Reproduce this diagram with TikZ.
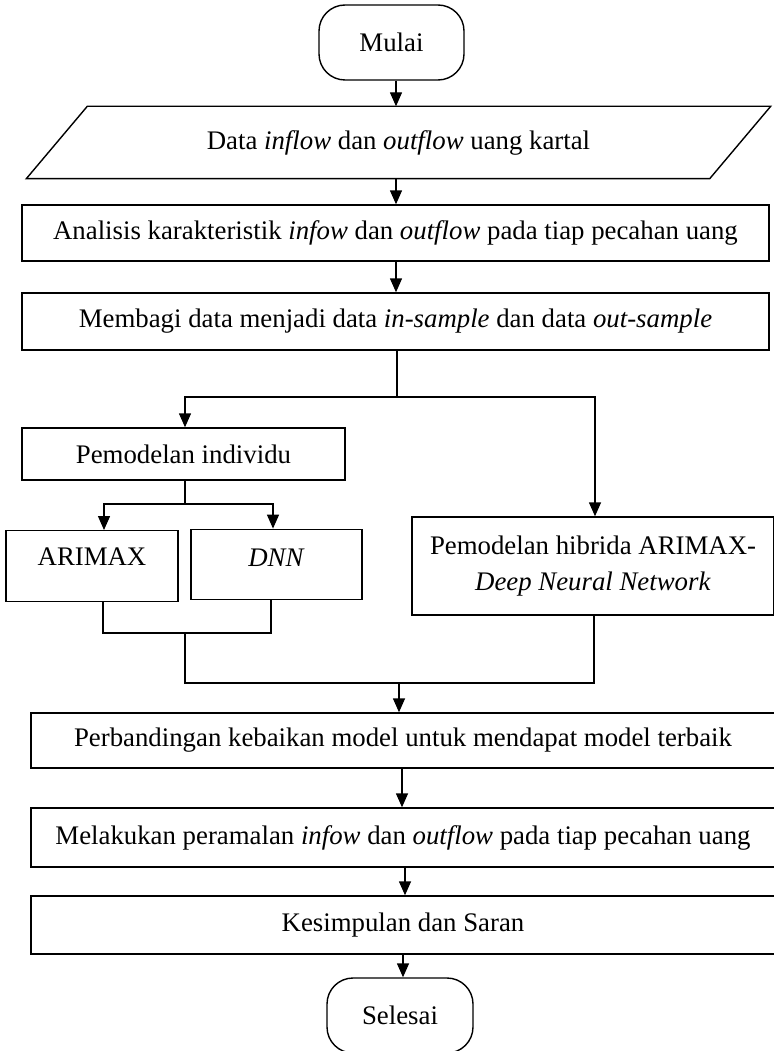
\documentclass[tikz,border=0pt]{standalone}
\usepackage{fontspec}
\setmainfont{Liberation Serif}
\usetikzlibrary{arrows.meta}
\begin{document}
\begin{tikzpicture}[x=1pt,y=-1pt,line width=1.4pt,
  every node/.style={font=\fontsize{26.8}{36}\selectfont, inner sep=0pt},
  box/.style={draw},
  term/.style={draw, rounded corners=26pt},
  arr/.style={-{Triangle[length=14pt,width=12pt]}}]
\fill[white] (0,0) rectangle (773,1051);
\useasboundingbox (0,0) rectangle (773,1051);

\node[term, minimum width=145, minimum height=75] (start) at (391.5,42.5) {Mulai};
\node[minimum width=682, minimum height=71] (data) at (398.5,142.5) {Data \textit{inflow} dan \textit{outflow} uang kartal};
\draw ([xshift=30.5pt]data.north west) -- ([xshift=30.5pt]data.north east) -- ([xshift=-30.5pt]data.south east) -- ([xshift=-30.5pt]data.south west) -- cycle;
\node[box, minimum width=747, minimum height=56] (anal) at (395.5,233) {Analisis karakteristik \textit{infow} dan \textit{outflow} pada tiap pecahan uang};
\node[box, minimum width=747, minimum height=57] (bagi) at (395.5,321.5) {Membagi data menjadi data \textit{in-sample} dan data \textit{out-sample}};
\node[box, minimum width=323, minimum height=52] (indiv) at (183.5,454) {Pemodelan individu};
\node[box, minimum width=172, minimum height=71, text height=18pt, text depth=19.5pt] (arimax) at (92,566.2) {ARIMAX};
\node[box, minimum width=171, minimum height=70, text height=18pt, text depth=14.5pt] (dnn) at (276.5,564.3) {\textit{DNN}};
\node[box, minimum width=362, minimum height=98, align=center] (hyb) at (593,566) {Pemodelan hibrida ARIMAX-\\\textit{Deep Neural Network}};
\node[box, minimum width=744, minimum height=55] (banding) at (403,740.5) {Perbandingan kebaikan model untuk mendapat model terbaik};
\node[box, minimum width=744, minimum height=59] (ramal) at (403,837.5) {Melakukan peramalan \textit{infow} dan \textit{outflow} pada tiap pecahan uang};
\node[box, minimum width=744, minimum height=58] (simpul) at (403,925) {Kesimpulan dan Saran};
\node[term, minimum width=146, minimum height=75] (end) at (400,1015.5) {Selesai};

\draw[arr] ([xshift=4.5pt]start.south) -- ([xshift=4.5pt]start.south |- data.north);
\draw[arr] ([xshift=-2.5pt]data.south) -- ([xshift=-2.5pt]data.south |- anal.north);
\draw[arr] ([xshift=0.5pt]anal.south) -- ([xshift=0.5pt]anal.south |- bagi.north);

\coordinate (s1) at (397,397);
\draw ([xshift=1.5pt]bagi.south) -- (s1);
\draw[arr] (s1) -| ([xshift=1.5pt]indiv.north);
\draw[arr] (s1) -| ([xshift=2pt]hyb.north);

\coordinate (s2) at (185,504);
\draw ([xshift=1.5pt]indiv.south) -- (s2);
\draw[arr] (s2) -| ([xshift=12pt]arimax.north);
\draw[arr] (s2) -| ([xshift=-3.5pt]dnn.north);

\coordinate (m1) at (185,633);
\coordinate (m2) at (399,683);
\draw ([xshift=11pt]arimax.south) |- (m1);
\draw ([xshift=-5.5pt]dnn.south) |- (m1);
\draw (m1) |- (m2);
\draw ([xshift=1pt]hyb.south) |- (m2);
\draw[arr] (m2) -- (m2 |- banding.north);

\draw[arr] ([xshift=-1pt]banding.south) -- ([xshift=-1pt]banding.south |- ramal.north);
\draw[arr] ([xshift=2pt]ramal.south) -- ([xshift=2pt]ramal.south |- simpul.north);
\draw[arr] (simpul.south) -- (simpul.south |- end.north);
\end{tikzpicture}
\end{document}
